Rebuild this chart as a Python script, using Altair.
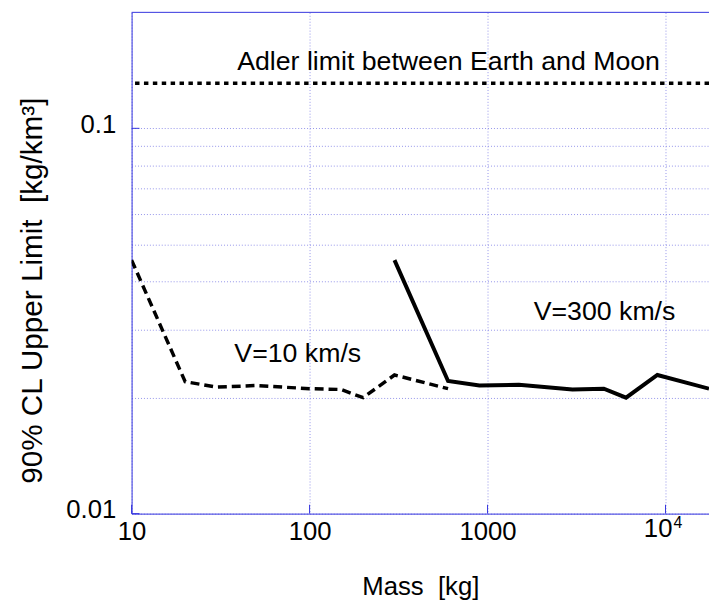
import altair as alt
import pandas as pd

# ---- data ----
mass_v10 = [10, 20, 30, 50, 100, 150, 200, 300, 600]
limit_v10 = [0.0455, 0.0220, 0.0213, 0.0215, 0.0211, 0.0210, 0.0200, 0.0229, 0.0211]

mass_v300 = [300, 600, 900, 1500, 3000, 4500, 6000, 9000, 17550]
limit_v300 = [0.0455, 0.0221, 0.0215, 0.0216, 0.0210, 0.0211, 0.0200, 0.0229, 0.0211]

adler_limit = [0.131]

x_domain = [10, 17550]
y_domain = [0.01, 0.2]

x_tick_values = [10, 100, 1000, 10000]
x_tick_labels = ["10", "100", "1000", ""]
pow_tick_value = [10000]
pow_base = ["10"]
pow_exp = ["4"]
y_grid_values = [0.01, 0.02, 0.03, 0.04, 0.05, 0.06, 0.07, 0.08, 0.09, 0.1]
y_label_values = [0.01, 0.1]
y_label_texts = ["0.01", "0.1"]

ann_texts = ["Adler limit between Earth and Moon", "V=10 km/s", "V=300 km/s"]
ann_mass = [39.2, 37.8, 1817]
ann_limit = [0.142, 0.0247, 0.0319]

# ---- style ----
FONT = "Liberation Sans"
BLUE = "#3434de"
GRID = "#9494ea"
W, H = 584, 507
TICK_FS = 26


def label_expr(values, labels):
    expr = "''"
    for v, l in reversed(list(zip(values, labels))):
        expr = f"datum.value == {v} ? '{l}' : ({expr})"
    return expr


xscale = alt.Scale(type="log", domain=x_domain, nice=False)
yscale = alt.Scale(type="log", domain=y_domain, nice=False)

xaxis = alt.Axis(
    values=x_tick_values, labelExpr=label_expr(x_tick_values, x_tick_labels),
    labelFont=FONT, labelFontSize=TICK_FS, labelColor="black", labelPadding=5,
    labelFlush=False, labelOverlap=False, ticks=False, tickSize=0,
    domainColor=BLUE, domainWidth=1,
    grid=True, gridColor=GRID, gridDash=[1, 2], gridWidth=1,
    title="Mass \u00a0[kg]", titleFont=FONT, titleFontSize=26, titleFontWeight="normal",
    titleColor="black", titleY=82, titleBaseline="alphabetic",
)
yaxis = alt.Axis(
    values=y_grid_values, labelExpr=label_expr(y_label_values, y_label_texts),
    labelFont=FONT, labelFontSize=TICK_FS, labelColor="black", labelPadding=16,
    labelBaseline="middle", labelOffset=-4,
    labelFlush=False, labelOverlap=False, ticks=False, tickSize=0,
    domainColor=BLUE, domainWidth=1,
    grid=True, gridColor=GRID, gridDash=[1, 2], gridWidth=1,
    title="90% CL Upper Limit \u00a0[kg/km\u00b3]", titleFont=FONT, titleFontSize=30,
    titleFontWeight="normal", titleColor="black", titleX=-100, titleY=281,
    titleBaseline="middle", titleAlign="center",
)

X = alt.X("mass:Q", scale=xscale, axis=xaxis)
Y = alt.Y("limit:Q", scale=yscale, axis=yaxis)

df10 = pd.DataFrame({"mass": mass_v10, "limit": limit_v10})
df300 = pd.DataFrame({"mass": mass_v300, "limit": limit_v300})
df_adler = pd.DataFrame({"limit": adler_limit})
df_top = pd.DataFrame({"limit": [y_domain[1]]})
df_xt = pd.DataFrame({"mass": x_tick_values})
df_yt = pd.DataFrame({"limit": y_label_values})
df_ann = pd.DataFrame({"mass": ann_mass, "limit": ann_limit, "text": ann_texts})
df_pow = pd.DataFrame({"mass": pow_tick_value, "limit": [y_domain[0]],
                       "base": pow_base, "exp": pow_exp})

top_border = alt.Chart(df_top).mark_rule(color=BLUE, strokeWidth=1).encode(y=Y)
xticks = alt.Chart(df_xt).mark_rule(color=BLUE, strokeWidth=1).encode(
    x=X, y=alt.value(H), y2=alt.value(H - 9))
yticks = alt.Chart(df_yt).mark_rule(color=BLUE, strokeWidth=1).encode(
    y=Y, x=alt.value(0), x2=alt.value(8))

adler = alt.Chart(df_adler).mark_rule(
    color="black", strokeWidth=3.5, strokeDash=[4.5, 4.5]).encode(y=Y)

line10 = alt.Chart(df10).mark_line(
    color="black", strokeWidth=3.5, strokeDash=[9, 5], clip=True).encode(x=X, y=Y)
line300 = alt.Chart(df300).mark_line(
    color="black", strokeWidth=4, clip=True).encode(x=X, y=Y)

ann = alt.Chart(df_ann).mark_text(
    font=FONT, fontSize=27, color="black", align="left", baseline="alphabetic").encode(
    x=X, y=Y, text="text:N")

pow_base_t = alt.Chart(df_pow).mark_text(
    font=FONT, fontSize=TICK_FS, color="black", align="right", baseline="alphabetic",
    dx=7, dy=24).encode(x=X, y=Y, text="base:N")
pow_exp_t = alt.Chart(df_pow).mark_text(
    font=FONT, fontSize=16, color="black", align="left", baseline="alphabetic",
    dx=8, dy=15).encode(x=X, y=Y, text="exp:N")

chart = alt.layer(top_border, xticks, yticks, adler, line10, line300, ann,
                  pow_base_t, pow_exp_t).properties(
    width=W, height=H,
    autosize=alt.AutoSizeParams(type="none"),
    padding={"left": 125, "top": 1, "right": 0, "bottom": 88},
    background="white",
).configure_view(stroke=None)

chart.save("out.html", embed_options={"renderer": "svg", "actions": False})
